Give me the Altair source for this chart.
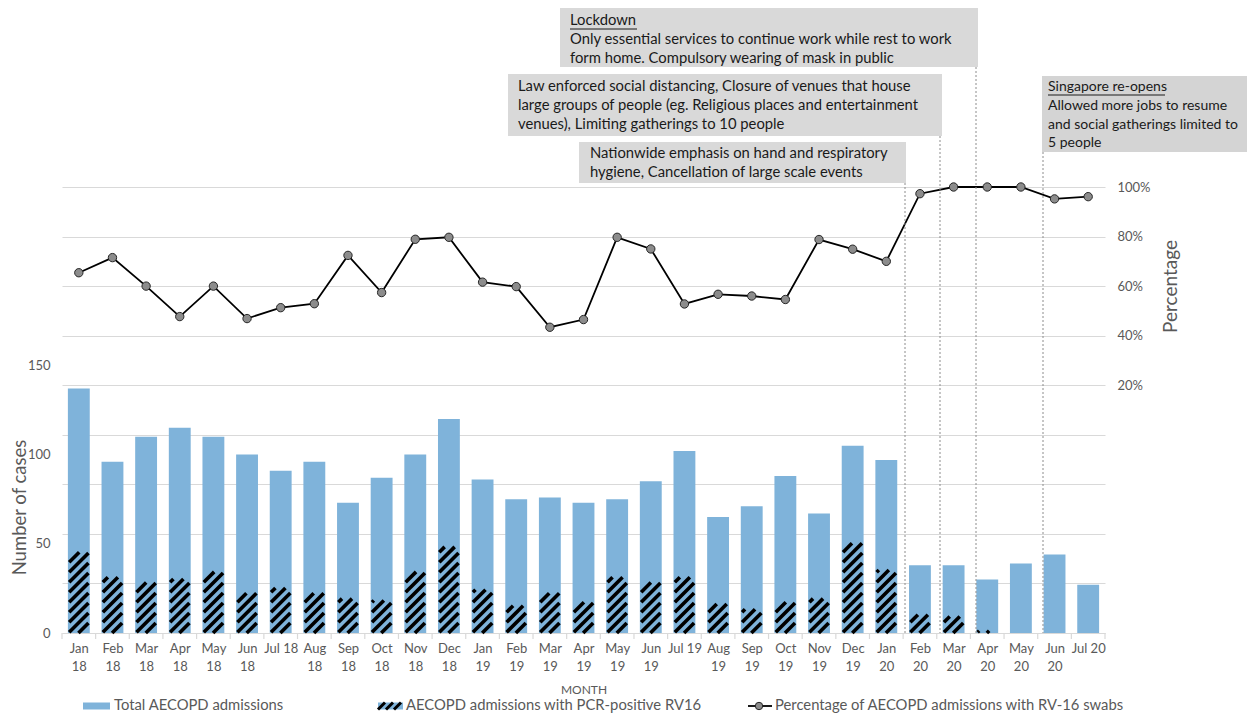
import altair as alt
import pandas as pd
import numpy as np

# ---------------- data ----------------
months = ["Jan 18", "Feb 18", "Mar 18", "Apr 18", "May 18", "Jun 18", "Jul 18", "Aug 18",
          "Sep 18", "Oct 18", "Nov 18", "Dec 18", "Jan 19", "Feb 19", "Mar 19", "Apr 19",
          "May 19", "Jun 19", "Jul 19", "Aug 19", "Sep 19", "Oct 19", "Nov 19", "Dec 19",
          "Jan 20", "Feb 20", "Mar 20", "Apr 20", "May 20", "Jun 20", "Jul 20"]
total_admissions = [137, 96, 110, 115, 110, 100, 91, 96, 73, 87, 100, 120, 86, 75, 76, 73,
                    75, 85, 102, 65, 71, 88, 67, 105, 97, 38, 38, 30, 39, 44, 27]
rv16_positive = [46, 32, 29, 31, 35, 23, 26, 23, 20, 19, 35, 49, 25, 16, 23, 18,
                 32, 29, 32, 17, 14, 18, 20, 51, 36, 11, 10, 2, 0, 0, 0]
pct_rv16 = [65.4, 71.5, 60.0, 47.7, 60.0, 46.9, 51.3, 52.9, 72.4, 57.4, 78.9, 79.7, 61.6, 59.8,
            43.4, 46.5, 79.7, 75.0, 52.8, 56.7, 56.0, 54.6, 78.8, 74.9, 70.0, 97.3, 100.0,
            100.0, 100.0, 95.2, 96.1]

left_ticks = [0, 50, 100, 150]
right_ticks = [-80, -60, -40, -20, 0, 20, 40, 60, 80, 100]

legend_labels = ["Total AECOPD admissions", "AECOPD admissions with PCR-positive RV16",
                 "Percentage of AECOPD admissions with RV-16 swabs"]

# ---------------- layout ----------------
W, H = 1043, 446
XD = [-0.5, len(months) - 0.5]
YL = [0, 250]
YR = [-80, 100]
PXU = W / (XD[1] - XD[0])
PYU = H / (YL[1] - YL[0])
HALF = 0.325
BLUE = "#7fb3da"
GREY_TXT = "#595959"
GRID = "#d9d9d9"
FONT = "Lato"

n = len(months)
df = pd.DataFrame({
    "i": list(range(n)), "month": months, "total": total_admissions,
    "rv16": rv16_positive, "pct": pct_rv16,
})
df["x1"] = df["i"] - HALF
df["x2"] = df["i"] + HALF


def stripes_for(i, h_units, spacing=10.0, inset=1.3):
    """diagonal hatch segments clipped to bar i (computed from the data value)."""
    segs = []
    if h_units <= 0:
        return segs
    half = HALF * PXU - inset
    Hp = h_units * PYU - inset
    c = -2 * half - spacing
    while c < Hp + spacing:
        lo = max(-half, -half - c)
        hi = min(half, Hp - half - c)
        if hi - lo > 0.8:
            segs.append({"sx": i + lo / PXU, "sx2": i + hi / PXU,
                         "sy": (lo + half + c) / PYU, "sy2": (hi + half + c) / PYU})
        c += spacing
    return segs


stripe_rows = []
for i, h in enumerate(rv16_positive):
    stripe_rows += stripes_for(i, h)
stripes = pd.DataFrame(stripe_rows)

xs = alt.Scale(domain=XD, nice=False, zero=False)
ysl = alt.Scale(domain=YL, nice=False, zero=False)
ysr = alt.Scale(domain=YR, nice=False, zero=False)

arr = "[" + ",".join("'" + m + "'" for m in months) + "]"
label_expr = (f"indexof({arr}[datum.value], 'Jul') == 0 ? {arr}[datum.value] : "
              f"split({arr}[datum.value], ' ')")

x_axis = alt.Axis(values=list(range(n)), labelExpr=label_expr, ticks=False, grid=False,
                  orient="bottom",
                  domainColor=GRID, domainWidth=1.2, labelColor=GREY_TXT, labelFontSize=13,
                  labelLineHeight=18, labelPadding=9, labelFont=FONT,
                  title="MONTH", titleFontSize=12, titleColor=GREY_TXT, titleFontWeight="normal",
                  titleFont=FONT, titleY=56, titleBaseline="middle")
left_axis = alt.Axis(values=left_ticks, grid=False, domain=False, ticks=False, labelPadding=12,
                     orient="left",
                     labelColor=GREY_TXT, labelFontSize=13, labelFont=FONT,
                     title="Number of cases", titleFontSize=18.5, titleColor=GREY_TXT,
                     titleFontWeight="normal", titleFont=FONT, titleAngle=270, titleX=-43,
                     titleY=320, titleAlign="center", titleBaseline="middle")
right_axis = alt.Axis(values=right_ticks, grid=True, gridColor=GRID, gridWidth=1.2, domain=False,
                      orient="right",
                      ticks=False, labelPadding=12, labelColor=GREY_TXT, labelFontSize=13,
                      labelFont=FONT, labelExpr="datum.value > 0 ? datum.value + '%' : ''",
                      title="Percentage", titleFontSize=19, titleColor=GREY_TXT,
                      titleFontWeight="normal", titleFont=FONT, titleAngle=270, titleX=65,
                      titleY=99, titleAlign="center", titleBaseline="middle")

bars = alt.Chart(df).mark_rect(color=BLUE).encode(
    x=alt.X("x1:Q", scale=xs, axis=x_axis), x2="x2:Q",
    y=alt.Y("total:Q", scale=ysl, axis=left_axis), y2=alt.datum(0),
)
hatch = alt.Chart(stripes).mark_rule(color="#000000", strokeWidth=3.6, strokeCap="butt").encode(
    x=alt.X("sx:Q", scale=xs, axis=x_axis), x2="sx2:Q",
    y=alt.Y("sy:Q", scale=ysl, axis=left_axis), y2="sy2:Q",
)
left_layer = alt.layer(bars, hatch)

line = alt.Chart(df).mark_line(color="#000000", strokeWidth=1.8).encode(
    x=alt.X("i:Q", scale=xs, axis=x_axis),
    y=alt.Y("pct:Q", scale=ysr, axis=right_axis),
)
points = alt.Chart(df).mark_point(shape="circle", filled=True, size=70, fill="#8c8c8c",
                                  stroke="#262626", strokeWidth=1, opacity=1).encode(
    x=alt.X("i:Q", scale=xs, axis=x_axis),
    y=alt.Y("pct:Q", scale=ysr, axis=right_axis),
)
right_layer = alt.layer(line, points)

# x-axis tick marks between categories
bounds = pd.DataFrame({"b": [k - 0.5 for k in range(n + 1)]})
ticks = alt.Chart(bounds).mark_rule(color=GRID, strokeWidth=1.2).encode(
    x=alt.X("b:Q", scale=xs, axis=x_axis), y=alt.value(H), y2=alt.value(H + 6))

# ---------------- annotations (pixel positions in plot coords) ----------------
boxes = pd.DataFrame([
    {"x": 498, "x2": 916, "y": -179, "y2": -120},
    {"x": 446, "x2": 880, "y": -113, "y2": -51},
    {"x": 517, "x2": 844, "y": -45, "y2": -4},
])
box_layer = alt.Chart(boxes).mark_rect(color="#d9d9d9").encode(
    x=alt.X("x:Q", scale=None), x2="x2:Q", y=alt.Y("y:Q", scale=None), y2="y2:Q")
sg_box = pd.DataFrame([{"x": 980, "x2": 1200, "y": -111, "y2": -35}])
sg_layer = alt.Chart(sg_box).mark_rect(color="#d4d4d4", cornerRadiusTopRight=10,
                                       cornerRadiusBottomRight=10).encode(
    x=alt.X("x:Q", scale=None), x2="x2:Q", y=alt.Y("y:Q", scale=None), y2="y2:Q")

ann_text = pd.DataFrame([
    {"x": 508, "y": -166, "t": "Lockdown"},
    {"x": 508, "y": -147, "t": "Only essential services to continue work while rest to work"},
    {"x": 508, "y": -128, "t": "form home. Compulsory wearing of mask in public"},
    {"x": 456, "y": -100, "t": "Law enforced social distancing, Closure of venues that house"},
    {"x": 456, "y": -81, "t": "large groups of people (eg. Religious places and entertainment"},
    {"x": 456, "y": -62, "t": "venues), Limiting gatherings to 10 people"},
    {"x": 528, "y": -33, "t": "Nationwide emphasis on hand and respiratory"},
    {"x": 528, "y": -14, "t": "hygiene, Cancellation of large scale events"},
])
ann_layer = alt.Chart(ann_text).mark_text(align="left", baseline="middle", font=FONT,
                                          fontSize=14.8, color="#1a1a1a").encode(
    x=alt.X("x:Q", scale=None), y=alt.Y("y:Q", scale=None), text="t:N")
sg_text = pd.DataFrame([
    {"x": 986, "y": -100, "t": "Singapore re-opens"},
    {"x": 986, "y": -81, "t": "Allowed more  jobs to resume"},
    {"x": 986, "y": -62, "t": "and social gatherings limited to"},
    {"x": 986, "y": -44, "t": "5 people"},
])
sg_text_layer = alt.Chart(sg_text).mark_text(align="left", baseline="middle", font=FONT,
                                             fontSize=14, color="#1a1a1a").encode(
    x=alt.X("x:Q", scale=None), y=alt.Y("y:Q", scale=None), text="t:N")
underlines = pd.DataFrame([
    {"x": 508, "x2": 575, "y": -158},
    {"x": 986, "x2": 1103, "y": -92},
])
ul_layer = alt.Chart(underlines).mark_rule(color="#1a1a1a", strokeWidth=1).encode(
    x=alt.X("x:Q", scale=None), x2="x2:Q", y=alt.Y("y:Q", scale=None))

vlines = pd.DataFrame([
    {"x": 843, "y": -4}, {"x": 878, "y": -51}, {"x": 914, "y": -120}, {"x": 981, "y": -35},
])
vl_layer = alt.Chart(vlines).mark_rule(color="#8c8c8c", strokeWidth=1, strokeDash=[2, 2]).encode(
    x=alt.X("x:Q", scale=None), y=alt.Y("y:Q", scale=None), y2=alt.value(H))

# ---------------- legend ----------------
LY = 519
leg_rect = pd.DataFrame([{"x": 21, "x2": 48, "y": LY - 3.5, "y2": LY + 3.5}])
leg_rect_layer = alt.Chart(leg_rect).mark_rect(color=BLUE).encode(
    x=alt.X("x:Q", scale=None), x2="x2:Q", y=alt.Y("y:Q", scale=None), y2="y2:Q")
leg_hatch_bg = pd.DataFrame([{"x": 316, "x2": 341, "y": LY - 3.5, "y2": LY + 3.5}])
leg_hatch_bg_layer = alt.Chart(leg_hatch_bg).mark_rect(color=BLUE).encode(
    x=alt.X("x:Q", scale=None), x2="x2:Q", y=alt.Y("y:Q", scale=None), y2="y2:Q")
leg_stripes = pd.DataFrame([
    {"x": 316 + k * 8, "x2": 316 + k * 8 + 7, "y": LY + 3.5, "y2": LY - 3.5} for k in range(3)
])
leg_stripes_layer = alt.Chart(leg_stripes).mark_rule(color="#000000", strokeWidth=3).encode(
    x=alt.X("x:Q", scale=None), x2="x2:Q", y=alt.Y("y:Q", scale=None), y2="y2:Q")
leg_line = pd.DataFrame([{"x": 686, "x2": 710, "y": LY}])
leg_line_layer = alt.Chart(leg_line).mark_rule(color="#000000", strokeWidth=1.8).encode(
    x=alt.X("x:Q", scale=None), x2="x2:Q", y=alt.Y("y:Q", scale=None))
leg_pt = pd.DataFrame([{"x": 697, "y": LY}])
leg_pt_layer = alt.Chart(leg_pt).mark_point(shape="circle", filled=True, size=55, fill="#8c8c8c",
                                            stroke="#262626", strokeWidth=1, opacity=1).encode(
    x=alt.X("x:Q", scale=None), y=alt.Y("y:Q", scale=None))
leg_text = pd.DataFrame([
    {"x": 52, "y": LY, "t": legend_labels[0]},
    {"x": 344, "y": LY, "t": legend_labels[1]},
    {"x": 713, "y": LY, "t": legend_labels[2]},
])
leg_text_layer = alt.Chart(leg_text).mark_text(align="left", baseline="middle", font=FONT,
                                               fontSize=14.8, color=GREY_TXT).encode(
    x=alt.X("x:Q", scale=None), y=alt.Y("y:Q", scale=None), text="t:N")

chart = alt.layer(
    left_layer, right_layer, ticks, box_layer, sg_layer, ann_layer, sg_text_layer, ul_layer,
    vl_layer, leg_rect_layer, leg_hatch_bg_layer, leg_stripes_layer, leg_line_layer,
    leg_pt_layer, leg_text_layer,
).resolve_scale(y="independent").properties(
    width=W, height=H,
    autosize=alt.AutoSizeParams(type="none"),
    padding={"left": 54, "top": 179, "right": 142, "bottom": 84},
).configure(font=FONT).configure_view(stroke=None)

chart.save("out.html", embed_options={"renderer": "svg", "actions": False})
